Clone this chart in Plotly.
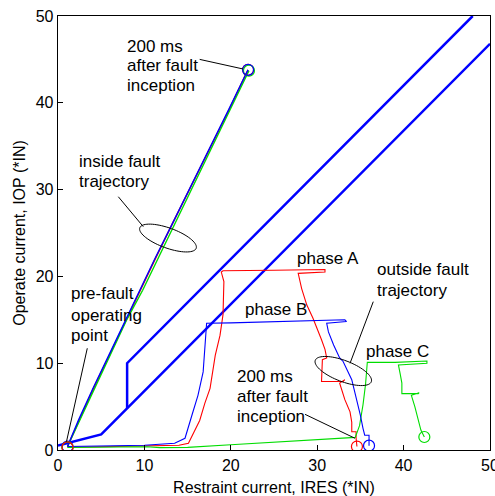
import numpy as np
import plotly.graph_objects as go

# ---------------- data ----------------
# relay characteristic (boundary)
BND_X = [0, 5, 50, None, 8, 8, 48]
BND_Y = [0.5, 1.8, 46.8, None, 4.8, 10, 50]

# inside fault trajectories
IN_X_A = [1.1, 2.5, 4.2, 5.6, 6.6, 7.8, 9.5, 11.3, 13.2, 15.3, 17.5, 19.8, 21.6, 22.0]
IN_Y_A = [0.4, 3.6, 7.3, 10.2, 12.3, 14.9, 18.4, 22.1, 26.0, 30.2, 34.6, 39.2, 43.0, 43.8]
IN_X_B = [1.1, 2.4, 4.1, 5.5, 6.6, 7.8, 9.4, 11.2, 13.2, 15.3, 17.4, 19.7, 21.6, 22.0]
IN_Y_B = [0.4, 3.5, 7.2, 10.2, 12.4, 14.9, 18.3, 22.0, 26.0, 30.2, 34.5, 39.1, 43.0, 43.8]
IN_X_C = [1.1, 2.6, 4.3, 5.7, 6.7, 7.9, 9.8, 11.6, 13.5, 15.5, 17.6, 19.9, 21.7, 22.1]
IN_Y_C = [0.4, 3.6, 7.3, 10.2, 12.3, 14.9, 18.4, 22.1, 26.0, 30.2, 34.6, 39.2, 43.0, 43.7]

# outside fault trajectories
OUT_X_A = [1.1, 5.0, 10.0, 14.0, 15.1, 16.4, 17.0, 17.6, 18.2, 18.75, 19.1, 19.2, 18.9, 19.1, 25.0,
           30.9, 30.9, 27.8, 28.2, 28.8, 29.5, 30.1, 30.5, 30.9, 31.1, 30.6, 30.5, 33.0, 33.2, 32.6,
           33.2, 33.8, 34.0, 34.0, 34.5, 34.5, 34.6]
OUT_Y_A = [0.3, 0.35, 0.45, 0.55, 0.77, 3.4, 5.4, 7.1, 10.9, 13.2, 15.6, 19.4, 20.5, 20.65, 20.7,
           20.8, 20.5, 20.35, 18.6, 16.7, 15.2, 13.8, 12.7, 11.6, 10.6, 10.4, 7.9, 7.9, 8.1, 7.7,
           5.8, 4.4, 3.2, 2.1, 2.1, 1.35, 0.4]
OUT_X_B = [1.1, 5.0, 10.0, 13.5, 14.7, 15.5, 16.2, 16.8, 17.0, 17.2, 17.2, 20.0, 25.0, 31.0, 33.2,
           33.4, 31.1, 31.3, 31.9, 32.6, 33.0, 34.0, 34.6, 35.0, 35.3, 35.5, 36.0, 36.0]
OUT_Y_B = [0.4, 0.45, 0.55, 0.77, 1.35, 4.0, 6.3, 9.0, 11.7, 14.0, 14.6, 14.65, 14.8, 15.0, 15.0,
           14.8, 14.6, 13.6, 12.1, 10.6, 10.2, 8.1, 5.8, 4.0, 2.5, 1.7, 1.7, 0.5]
OUT_X_C = [1.1, 5.0, 10.3, 11.8, 15.0, 20.0, 24.5, 28.0, 31.5, 34.4, 34.9, 35.3, 35.6, 35.8, 39.0,
           42.7, 42.7, 39.4, 39.6, 39.8, 39.8, 41.7, 41.8, 40.9, 41.3, 41.7, 42.0, 42.4]
OUT_Y_C = [0.3, 0.35, 0.38, 0.27, 0.3, 0.6, 0.88, 1.1, 1.3, 1.45, 2.8, 5.2, 7.6, 10.1, 10.1,
           10.25, 10.0, 9.8, 8.8, 7.7, 6.5, 6.5, 6.6, 6.3, 5.0, 3.5, 2.3, 1.5]

X_TICKS = [0, 10, 20, 30, 40, 50]
Y_TICKS = [0, 10, 20, 30, 40, 50]
X_TITLE = "Restraint current, IRES (*IN)"
Y_TITLE = "Operate current, IOP (*IN)"

# ---------------- styling ----------------
W, H = 495, 496
ML, MR, MT, MB = 58, 5, 16, 46
SX = (W - ML - MR) / 50.0
SY = (H - MT - MB) / 50.0
FONT = "Arial, Liberation Sans, sans-serif"
RED, GREEN, BLUE = "#ff0000", "#00dd00", "#0000ff"

fig = go.Figure()

fig.add_trace(go.Scatter(x=BND_X, y=BND_Y, mode="lines",
                         line=dict(color=BLUE, width=2.5), hoverinfo="skip"))

for xs, ys, c in [(IN_X_A, IN_Y_A, RED), (IN_X_C, IN_Y_C, GREEN), (IN_X_B, IN_Y_B, BLUE)]:
    fig.add_trace(go.Scatter(x=xs, y=ys, mode="lines", line=dict(color=c, width=1.4)))

for xs, ys, c in [(OUT_X_A, OUT_Y_A, RED), (OUT_X_C, OUT_Y_C, GREEN), (OUT_X_B, OUT_Y_B, BLUE)]:
    fig.add_trace(go.Scatter(x=xs, y=ys, mode="lines", line=dict(color=c, width=1.1)))

# circle markers at start / end points
mk = []
mk.append((IN_X_A[-1], IN_Y_A[-1], RED))
mk.append((IN_X_C[-1], IN_Y_C[-1], GREEN))
mk.append((IN_X_B[-1], IN_Y_B[-1], BLUE))
mk.append((OUT_X_A[-1], OUT_Y_A[-1], RED))
mk.append((OUT_X_B[-1], OUT_Y_B[-1], BLUE))
mk.append((OUT_X_C[-1], OUT_Y_C[-1], GREEN))
mk.append((OUT_X_B[0], OUT_Y_B[0], BLUE))
mk.append((OUT_X_C[0], OUT_Y_C[0], GREEN))
mk.append((OUT_X_A[0], OUT_Y_A[0], RED))
for x, y, c in mk:
    fig.add_trace(go.Scatter(x=[x], y=[y], mode="markers",
                             marker=dict(symbol="circle-open", size=11, color=c,
                                         line=dict(width=1.2, color=c))))


def ellipse_path(cx, cy, a_px, b_px, ang_deg):
    t = np.linspace(0, 2 * np.pi, 73)
    th = np.deg2rad(ang_deg)
    dx = a_px * np.cos(th) * np.cos(t) - b_px * np.sin(th) * np.sin(t)
    dy = a_px * np.sin(th) * np.cos(t) + b_px * np.cos(th) * np.sin(t)  # screen y down
    xs = cx + dx / SX
    ys = cy - dy / SY
    p = "M " + " L ".join(f"{x:.4f},{y:.4f}" for x, y in zip(xs, ys)) + " Z"
    return p


shapes = [
    dict(type="path", path=ellipse_path(12.73, 24.42, 30, 10, 20), xref="x", yref="y",
         line=dict(color="black", width=1)),
    dict(type="path", path=ellipse_path(33.02, 9.10, 30, 10.5, 21), xref="x", yref="y",
         line=dict(color="black", width=1)),
]
for (x0, y0, x1, y1) in [(16.4, 45.0, 21.4, 43.9), (6.98, 29.18, 9.87, 25.73),
                         (3.39, 11.72, 0.98, 0.96), (36.49, 17.09, 33.8, 9.99),
                         (28.59, 4.11, 34.37, 1.35)]:
    shapes.append(dict(type="line", x0=x0, y0=y0, x1=x1, y1=y1, xref="x", yref="y",
                       line=dict(color="black", width=1)))

texts = [
    (7.75, 46.46, "200 ms"), (7.75, 44.27, "after fault"), (7.75, 42.05, "inception"),
    (2.16, 33.29, "inside fault"), (2.16, 30.88, "trajectory"),
    (1.27, 18.05, "pre-fault"), (1.27, 15.55, "operating"), (1.27, 13.21, "point"),
    (27.43, 22.09, "phase A"), (21.45, 16.13, "phase B"),
    (36.69, 20.85, "outside fault"), (36.69, 18.32, "trajectory"),
    (35.42, 11.32, "phase C"),
    (20.49, 8.44, "200 ms"), (20.49, 6.14, "after fault"), (20.49, 3.84, "inception"),
]
annotations = [dict(x=x, y=y, text=t, xref="x", yref="y", showarrow=False,
                    xanchor="left", yanchor="middle",
                    font=dict(family=FONT, size=17, color="black"))
               for x, y, t in texts]

axis_common = dict(range=[0, 50], showgrid=False, zeroline=False, showline=True,
                   linecolor="black", linewidth=1.3, mirror=True, ticks="inside",
                   ticklen=5, tickcolor="black", tickwidth=1, automargin=False,
                   ticklabeloverflow="allow",
                   tickfont=dict(family=FONT, size=16, color="black"))

fig.update_layout(
    width=W, height=H, autosize=False,
    margin=dict(l=ML, r=MR, t=MT, b=MB, pad=0),
    paper_bgcolor="white", plot_bgcolor="white",
    showlegend=False,
    xaxis=dict(**axis_common, tickvals=X_TICKS, ticktext=[str(v) for v in X_TICKS],
               title=dict(text=X_TITLE, font=dict(family=FONT, size=16, color="black"),
                          standoff=9)),
    yaxis=dict(**axis_common, tickvals=Y_TICKS, ticktext=[str(v) for v in Y_TICKS],
               title=dict(text=Y_TITLE, font=dict(family=FONT, size=16, color="black"),
                          standoff=6)),
    shapes=shapes, annotations=annotations,
)

fig.write_html(
    "out.html",
    config={"displayModeBar": False, "staticPlot": True},
    post_script="document.body.style.margin='0px';document.body.style.overflow='hidden';",
)
